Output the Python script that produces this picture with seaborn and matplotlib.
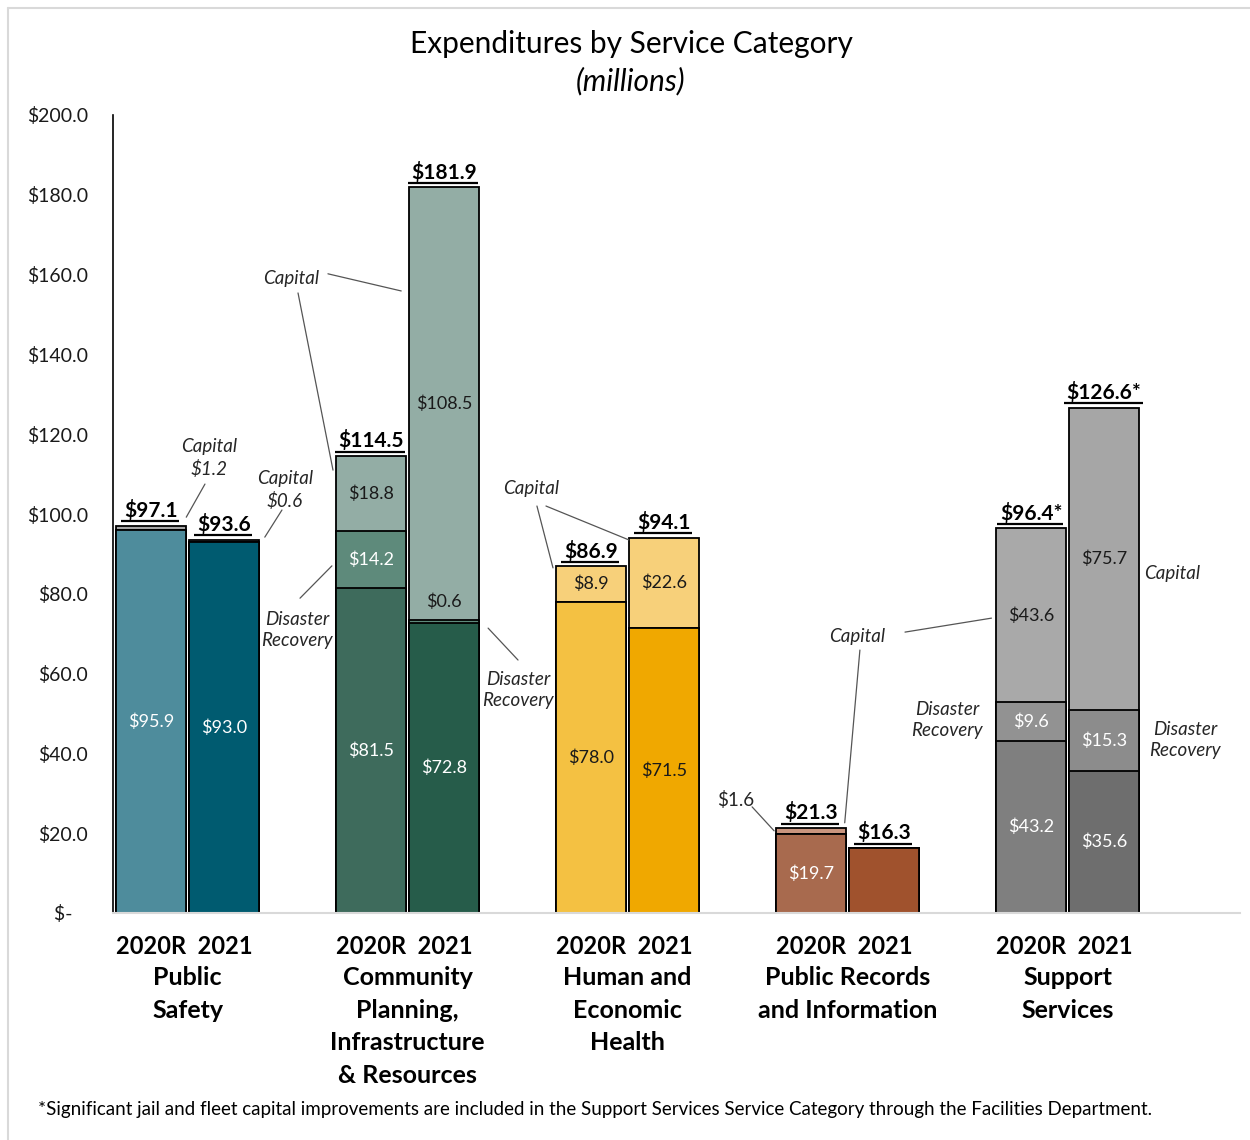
import numpy as np
import pandas as pd
import matplotlib
matplotlib.use("Agg")
import matplotlib.pyplot as plt
import seaborn as sns
from matplotlib.lines import Line2D

# ---- data (millions of dollars) ----
categories = ["Public\nSafety",
              "Community\nPlanning,\nInfrastructure\n& Resources",
              "Human and\nEconomic\nHealth",
              "Public Records\nand Information",
              "Support\nServices"]
years = ["2020R", "2021"]

operating_2020r = [95.9, 81.5, 78.0, 19.7, 43.2]
operating_2021 = [93.0, 72.8, 71.5, 16.3, 35.6]
disaster_2020r = [0.0, 14.2, 0.0, 0.0, 9.6]
disaster_2021 = [0.0, 0.6, 0.0, 0.0, 15.3]
capital_2020r = [1.2, 18.8, 8.9, 1.6, 43.6]
capital_2021 = [0.6, 108.5, 22.6, 0.0, 75.7]
total_suffix = ["", "", "", "", "*"]

ytick_values = [0, 20, 40, 60, 80, 100, 120, 140, 160, 180, 200]
ytick_labels = ["$-   ", "$20.0", "$40.0", "$60.0", "$80.0", "$100.0",
                "$120.0", "$140.0", "$160.0", "$180.0", "$200.0"]

footnote = ("*Significant jail and fleet capital improvements are included in the "
            "Support Services Service Category through the Facilities Department.")

# ---- colours ----
operating_colors = {"2020R": ["#4E8C9C", "#3E6B5C", "#F4C142", "#A86A4E", "#7F7F7F"],
                    "2021": ["#005B70", "#265C4A", "#F0A800", "#A0522D", "#6E6E6E"]}
disaster_colors = {"2020R": ["#5E8A7B", "#5E8A7B", "#F4C142", "#A86A4E", "#929292"],
                   "2021": ["#5E8A7B", "#5E8A7B", "#F0A800", "#A0522D", "#8C8C8C"]}
capital_colors = {"2020R": ["#A6A6A6", "#93ADA5", "#F7D07A", "#C9957E", "#A9A9A9"],
                  "2021": ["#A6A6A6", "#93ADA5", "#F7D07A", "#A0522D", "#A6A6A6"]}
operating_text = ["white", "white", "#1a1a1a", "white", "white"]

# ---- long table: one row per bar ----
offset = 0.166
rows = []
for i, cat in enumerate(categories):
    for j, yr in enumerate(years):
        op = [operating_2020r, operating_2021][j][i]
        dr = [disaster_2020r, disaster_2021][j][i]
        cap = [capital_2020r, capital_2021][j][i]
        rows.append(dict(bar=f"{i}-{yr}", cat=i, year=yr,
                         pos=i + (offset if j else -offset),
                         operating=op, disaster=dr, capital=cap,
                         base=op, mid=op + dr, top=op + dr + cap,
                         c_op=operating_colors[yr][i],
                         c_dr=disaster_colors[yr][i],
                         c_cap=capital_colors[yr][i]))
df = pd.DataFrame(rows)
df["top"] = df["top"].round(1)
df["mid"] = df["mid"].round(1)

sns.set_style("white")
plt.rcParams["font.family"] = ["Lato", "DejaVu Sans"]

fig = plt.figure(figsize=(12.5, 11.4), dpi=100)
ax = fig.add_axes([113 / 1250, 227 / 1140, 1127 / 1250, 798 / 1140])

# stacked bars: draw cumulative heights from the top layer down
for col, ccol in [("top", "c_cap"), ("mid", "c_dr"), ("base", "c_op")]:
    sns.barplot(data=df, x="pos", y=col, hue="bar",
                palette=dict(zip(df["bar"], df[ccol])),
                native_scale=True, dodge=False, width=0.964,
                saturation=1, errorbar=None, legend=False,
                edgecolor="black", linewidth=1.3, ax=ax)

ax.set_xlim(-0.339, -0.339 + 1127 / 220)
ax.set_ylim(0, 200)
ax.set_yticks(ytick_values)
ax.set_yticklabels(ytick_labels, fontsize=14, color="#1a1a1a")
ax.set_xticks([])
ax.set_xlabel("")
ax.set_ylabel("")
for s in ["top", "right"]:
    ax.spines[s].set_visible(False)
ax.spines["left"].set_color("black")
ax.spines["left"].set_linewidth(1.2)
ax.spines["bottom"].set_color("#D9D9D9")
ax.spines["bottom"].set_linewidth(1.5)
ax.tick_params(axis="y", direction="out", length=6, width=1.0, color="black", pad=12)

# ---- values inside segments ----
for _, r in df.iterrows():
    x = r["pos"]
    if r["top"] > r["operating"] and r["operating"] >= 5:
        ax.text(x, r["operating"] / 2, f"${r['operating']:.1f}", ha="center", va="center",
                fontsize=13, color=operating_text[r["cat"]])
    if r["disaster"] >= 5:
        ax.text(x, r["operating"] + r["disaster"] / 2, f"${r['disaster']:.1f}",
                ha="center", va="center", fontsize=13, color="white")
    elif r["disaster"] > 0:
        ax.text(x, r["mid"] + 4.5, f"${r['disaster']:.1f}", ha="center", va="center",
                fontsize=13, color="#1a1a1a")
    if r["capital"] >= 5:
        ax.text(x, r["mid"] + r["capital"] / 2, f"${r['capital']:.1f}", ha="center",
                va="center", fontsize=13, color="#1a1a1a")

# ---- totals (bold, underlined) ----
fig.canvas.draw()
renderer = fig.canvas.get_renderer()
inv = ax.transData.inverted()
for _, r in df.iterrows():
    t = ax.text(r["pos"], r["top"] + 3.8, f"${r['top']:.1f}{total_suffix[r['cat']]}",
                ha="center", va="center", fontsize=15, fontweight="bold", color="black")
    bb = t.get_window_extent(renderer)
    (x0, _), (x1, _) = inv.transform([[bb.x0 - 3, 0], [bb.x1 + 1, 0]])
    ax.plot([x0, x1], [r["top"] + 1.1] * 2, color="black", lw=1.6,
            solid_capstyle="butt", clip_on=False)

# ---- callouts ----
ital = dict(fontsize=13.5, fontstyle="italic", color="#262626", ha="center", va="center",
            linespacing=1.3)
lc = dict(color="#555555", lw=0.9)


def bar_edge(cat, yr, side):
    r = df[(df["cat"] == cat) & (df["year"] == yr)].iloc[0]
    return r["pos"] + (0.16 if side == "right" else -0.16), r


ax.text(0.097, 114.0, "Capital\n$1.2", **ital)
xe, r = bar_edge(0, "2020R", "right")
ax.plot([0.079, xe], [107.5, r["top"] + 2.1], **lc)

ax.text(0.443, 106.0, "Capital\n$0.6", **ital)
xe, r = bar_edge(0, "2021", "right")
ax.plot([0.429, xe + 0.025], [101.0, r["top"] + 0.6], **lc)

ax.text(0.47, 159.1, "Capital", **ital)
xe, r = bar_edge(1, "2021", "left")
ax.plot([0.638, xe - 0.035], [160.2, 155.9], **lc)
xe, r = bar_edge(1, "2020R", "left")
ax.plot([0.502, xe - 0.013], [155.4, 111.0], **lc)

ax.text(0.497, 70.9, "Disaster\nRecovery", **ital)
ax.plot([0.511, xe - 0.018], [78.9, 87.0], **lc)

ax.text(1.502, 55.9, "Disaster\nRecovery", **ital)
xe, r = bar_edge(1, "2021", "right")
ax.plot([1.502, xe + 0.04], [63.4, 71.4], **lc)

ax.text(1.561, 106.3, "Capital", **ital)
xe, r = bar_edge(2, "2020R", "left")
ax.plot([1.588, xe - 0.013], [102.0, 86.5], **lc)
xe, r = bar_edge(2, "2021", "left")
ax.plot([1.629, xe], [102.0, r["top"] - 0.6], **lc)

ax.text(2.493, 28.3, "$1.6", fontsize=13.5, color="#262626", ha="center", va="center")
xe, r = bar_edge(3, "2020R", "left")
ax.plot([2.566, xe - 0.008], [26.6, r["top"] - 0.7], **lc)

ax.text(3.042, 69.2, "Capital", **ital)
xe, r = bar_edge(3, "2020R", "right")
ax.plot([3.056, xe - 0.007], [65.9, r["top"] + 1.3], **lc)
xe, r = bar_edge(4, "2020R", "left")
ax.plot([3.261, xe - 0.02], [70.4, 73.9], **lc)

ax.text(3.452, 48.4, "Disaster\nRecovery", **ital)
ax.text(4.475, 85.0, "Capital", **ital)
ax.text(4.535, 43.4, "Disaster\nRecovery", **ital)

# ---- category axis labels ----
xt = ax.get_xaxis_transform()
year_row = "  ".join(years)
for i, cat in enumerate(categories):
    ax.text(i - 0.015, -0.0426, year_row, transform=xt, ha="center", va="center",
            fontsize=17, fontweight="bold", color="black")
    ax.text(i, -0.067, cat, transform=xt, ha="center", va="top", fontsize=18,
            fontweight="bold", color="black", linespacing=1.5)

# ---- titles, footnote, frame ----
fig.text(631 / 1250, 1 - 44 / 1140, "Expenditures by Service Category", ha="center",
         va="center", fontsize=21.5, color="black")
fig.text(631 / 1250, 1 - 81 / 1140, "(millions)", ha="center", va="center",
         fontsize=21.5, fontstyle="italic", color="black")
fig.text(38 / 1250, 1 - 1110 / 1140, footnote, ha="left", va="center", fontsize=13.5,
         color="black")

fig.add_artist(Line2D([8 / 1250, 8 / 1250], [0, 1 - 8 / 1140], transform=fig.transFigure,
                      color="#D9D9D9", lw=1.5))
fig.add_artist(Line2D([8 / 1250, 1], [1 - 8 / 1140, 1 - 8 / 1140], transform=fig.transFigure,
                      color="#D9D9D9", lw=1.5))

fig.savefig("out.png", dpi=100, facecolor="white")
